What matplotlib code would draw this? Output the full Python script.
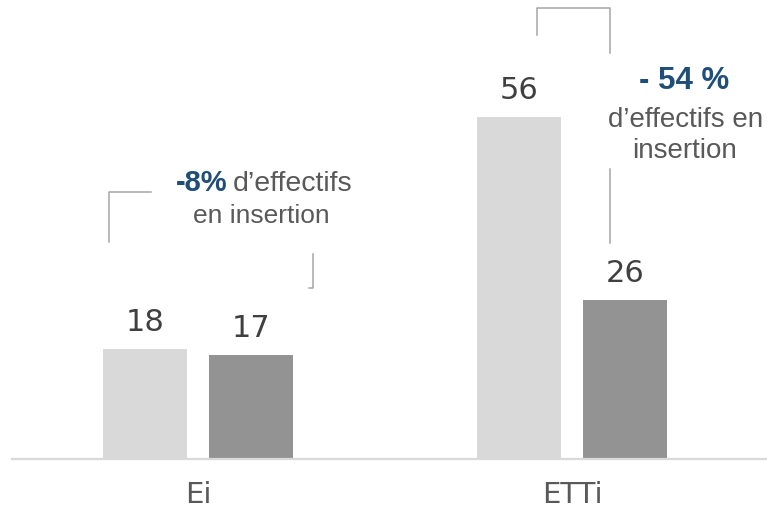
import matplotlib
matplotlib.use("Agg")
import matplotlib.pyplot as plt
from matplotlib.transforms import blended_transform_factory

# Data
categories = ["Ei", "ETTi"]
series_before = [18, 56]
series_after = [17, 26]

W, H = 767, 509
fig = plt.figure(figsize=(W / 100, H / 100), dpi=100)
ax = fig.add_axes([0, 0, 1, 1])

# pixel mapping: group centres at 198 and 572 px, baseline at 458.5 px, 6.09 px per unit
px_per_x = 374.0
xmin = -198 / px_per_x
ax.set_xlim(xmin, xmin + W / px_per_x)
px_per_y = 6.09
ybot = -(H - 458.5) / px_per_y
ax.set_ylim(ybot, ybot + H / px_per_y)
ax.axis("off")

light = "#d9d9d9"
dark = "#939393"
bw = 84 / px_per_x
off = 53 / px_per_x
xs = list(range(len(categories)))

ax.bar([x - off for x in xs], series_before, width=bw, color=light, zorder=2)
ax.bar([x + off for x in xs], series_after, width=bw, color=dark, zorder=2)

# baseline
ax.axhline(0, xmin=12 / W, xmax=1, color="#d9d9d9", lw=1.6, zorder=3)

# value labels
for x, v in zip(xs, series_before):
    ax.annotate(str(v), xy=(x - off, v), xytext=(0, 13), textcoords="offset points",
                ha="center", va="baseline", fontsize=22, color="#404040")
for x, v in zip(xs, series_after):
    ax.annotate(str(v), xy=(x + off, v), xytext=(0, 13), textcoords="offset points",
                ha="center", va="baseline", fontsize=22, color="#404040")

# category labels
tr = blended_transform_factory(ax.transData, fig.transFigure)
for x, c in zip(xs, categories):
    ax.text(x, 1 - 495 / H, c, transform=tr, ha="center", va="center",
            fontsize=21, color="#595959")


def fp(x, y):
    return x / W, 1 - y / H


def pline(pts):
    xx = [p[0] / W for p in pts]
    yy = [1 - p[1] / H for p in pts]
    fig.add_artist(plt.Line2D(xx, yy, color="#a6a6a6", lw=1.1,
                              transform=fig.transFigure))


# bracket lines
pline([(109, 242), (109, 192), (151, 192)])
pline([(313, 254), (313, 288), (309, 288)])
pline([(537, 35), (537, 8), (610, 8), (610, 53)])
pline([(610, 169), (610, 243)])

# annotations
blue = "#1f4e79"
grey = "#595959"
tf = dict(transform=fig.transFigure, family="Liberation Sans")

fig.text(*fp(228, 191), "-8%", ha="right", va="baseline", fontsize=21,
         fontweight="bold", color=blue, **tf)
fig.text(*fp(233, 191), "d\u2019effectifs", ha="left", va="baseline", fontsize=20.5,
         color=grey, **tf)
fig.text(*fp(261, 223), "en insertion", ha="center", va="baseline", fontsize=19,
         color=grey, **tf)

fig.text(*fp(684, 89), "- 54 %", ha="center", va="baseline", fontsize=22.5,
         fontweight="bold", color=blue, **tf)
fig.text(*fp(686, 127), "d\u2019effectifs en", ha="center", va="baseline",
         fontsize=20, color=grey, **tf)
fig.text(*fp(685, 158), "insertion", ha="center", va="baseline", fontsize=20,
         color=grey, **tf)

fig.savefig("out.png", dpi=100, facecolor="white")
